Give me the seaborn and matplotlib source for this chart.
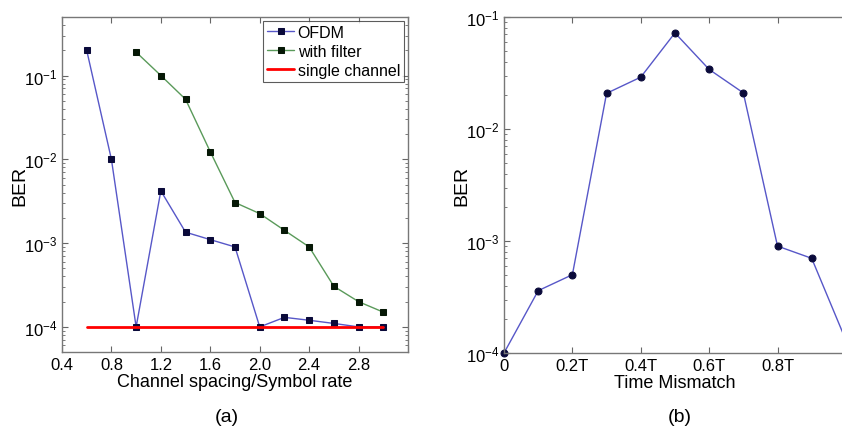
import numpy as np
import pandas as pd
import matplotlib
matplotlib.use('Agg')
import matplotlib.pyplot as plt
import seaborn as sns
from matplotlib.ticker import LogLocator, NullFormatter

# panel (a)
spacing = [0.6, 0.8, 1.0, 1.2, 1.4, 1.6, 1.8, 2.0, 2.2, 2.4, 2.6, 2.8, 3.0]
ber_ofdm = [0.2, 1e-2, 1e-4, 4.2e-3, 1.35e-3, 1.1e-3, 9e-4, 1e-4, 1.3e-4, 1.2e-4, 1.1e-4, 1e-4, 1e-4]
spacing_filt = [1.0, 1.2, 1.4, 1.6, 1.8, 2.0, 2.2, 2.4, 2.6, 2.8, 3.0]
ber_filt = [0.19, 0.1, 0.052, 0.0123, 3.05e-3, 2.25e-3, 1.42e-3, 9e-4, 3.05e-4, 2e-4, 1.5e-4]
single_x = [0.6, 3.0]
single_ber = [1e-4, 1e-4]
xticks_a = [0.4, 0.8, 1.2, 1.6, 2.0, 2.4, 2.8]
xtick_labels_a = ['0.4', '0.8', '1.2', '1.6', '2.0', '2.4', '2.8']

# panel (b)
mismatch = [0, 0.1, 0.2, 0.3, 0.4, 0.5, 0.6, 0.7, 0.8, 0.9, 1.0]
ber_mis = [1e-4, 3.6e-4, 5e-4, 0.0208, 0.029, 0.072, 0.034, 0.021, 9e-4, 7e-4, 1.3e-4]
xticks_b = [0, 0.2, 0.4, 0.6, 0.8]
xtick_labels_b = ['0', '0.2T', '0.4T', '0.6T', '0.8T']

yticks = [1e-4, 1e-3, 1e-2, 1e-1]
ytick_labels = [r'$10^{-4}$', r'$10^{-3}$', r'$10^{-2}$', r'$10^{-1}$']

sns.set_style('ticks')
plt.rcParams['font.family'] = ['Liberation Sans', 'DejaVu Sans']
plt.rcParams['mathtext.fontset'] = 'custom'
plt.rcParams['mathtext.rm'] = 'Liberation Sans'
plt.rcParams['mathtext.it'] = 'Liberation Sans'
plt.rcParams['text.color'] = 'black'
plt.rcParams['axes.labelcolor'] = 'black'
plt.rcParams['xtick.color'] = '#666666'
plt.rcParams['ytick.color'] = '#666666'
plt.rcParams['xtick.labelcolor'] = 'black'
plt.rcParams['ytick.labelcolor'] = 'black'

fig = plt.figure(figsize=(8.42, 4.27), dpi=100)
ax1 = fig.add_axes([0.0736, 0.173, 0.4110, 0.785])
ax2 = fig.add_axes([0.5986, 0.171, 0.406, 0.787])

blue = '#5757c8'
green = '#5a9a5a'


def style_axes(ax, right=True):
    ax.set_yscale('log')
    ax.set_yticks(yticks)
    ax.set_yticklabels(ytick_labels)
    ax.yaxis.set_minor_locator(LogLocator(base=10, subs=np.arange(2, 10)))
    ax.yaxis.set_minor_formatter(NullFormatter())
    ax.tick_params(which='both', direction='in', top=True, right=right, labelsize=12)
    ax.tick_params(which='major', length=4, width=0.8)
    ax.tick_params(which='minor', length=2, width=0.6)
    for s in ax.spines.values():
        s.set_color('#777777')
        s.set_linewidth(1)


sns.lineplot(x=spacing, y=ber_ofdm, ax=ax1, color=blue, lw=1, marker='s', ms=5,
             mfc='#0a0a3a', mec='#0a0a3a', label='OFDM')
sns.lineplot(x=spacing_filt, y=ber_filt, ax=ax1, color=green, lw=1, marker='s', ms=5,
             mfc='#061806', mec='#061806', label='with filter')
sns.lineplot(x=single_x, y=single_ber, ax=ax1, color='#ff0000', lw=2, label='single channel')

style_axes(ax1)
ax1.set_xlim(0.4, 3.2)
ax1.set_ylim(5e-5, 0.5)
ax1.set_xticks(xticks_a + [3.2])
ax1.set_xticklabels(xtick_labels_a + [''])
ax1.set_xlabel('Channel spacing/Symbol rate', fontsize=13, labelpad=1)
ax1.set_ylabel('BER', fontsize=14)
ax1.yaxis.set_label_coords(-0.098, 0.5)
leg = ax1.legend(loc='upper right', fontsize=11.5, frameon=True, fancybox=False,
                 borderpad=0.25, handlelength=1.7, handletextpad=0.2, labelspacing=0.25,
                 borderaxespad=0.25)
leg.get_frame().set_edgecolor('#333333')
leg.get_frame().set_linewidth(0.8)

sns.lineplot(x=mismatch, y=ber_mis, ax=ax2, color=blue, lw=1, marker='o', ms=5,
             mfc='#0a0a3a', mec='#0a0a3a')
style_axes(ax2, right=False)
ax2.set_xlim(0, 1.0)
ax2.set_ylim(1e-4, 1e-1)
ax2.set_xticks(xticks_b)
ax2.set_xticklabels(xtick_labels_b)
ax2.set_xlabel('Time Mismatch', fontsize=13, labelpad=1)
ax2.set_ylabel('BER', fontsize=14)
ax2.yaxis.set_label_coords(-0.0995, 0.5)
for line in ax2.get_lines():
    line.set_clip_on(False)

fig.text(0.2690, 0.012, '(a)', fontsize=14, ha='center')
fig.text(0.8076, 0.012, '(b)', fontsize=14, ha='center')

fig.savefig('out.png', dpi=100)
